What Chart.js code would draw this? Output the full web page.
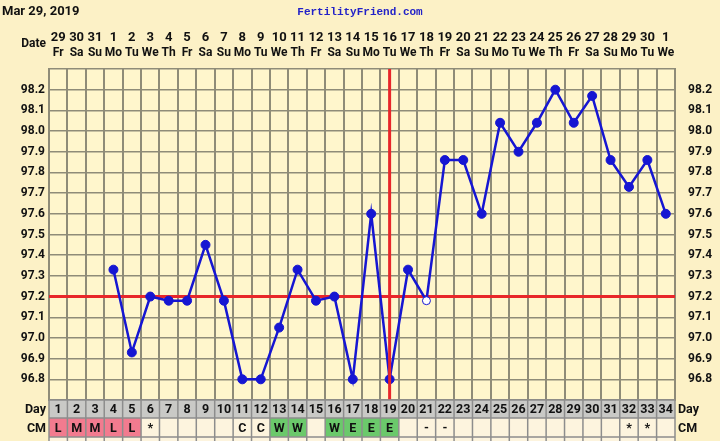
<!DOCTYPE html>
<html>
<head>
<meta charset="utf-8">
<script src="https://cdn.jsdelivr.net/npm/chart.js@4"></script>
<style>
  html, body { margin: 0; padding: 0; background: #fcf1c6; }
  #wrap { width: 720px; height: 441px; }
</style>
</head>
<body>
<div id="wrap"><canvas id="chart" width="720" height="441"></canvas></div>
<script>
// cycle days and the calendar above them
const days = Array.from({length: 34}, (_, i) => String(i + 1))
const dates = ['29','30','31','1','2','3','4','5','6','7','8','9','10','11','12','13','14','15','16','17','18','19','20','21','22','23','24','25','26','27','28','29','30','1']
const weekdays = ['Fr','Sa','Su','Mo','Tu','We','Th','Fr','Sa','Su','Mo','Tu','We','Th','Fr','Sa','Su','Mo','Tu','We','Th','Fr','Sa','Su','Mo','Tu','We','Th','Fr','Sa','Su','Mo','Tu','We']
// temperatures, null = not taken
const temps = [null, null, null, 97.33, 96.93, 97.2, 97.18, 97.18, 97.45, 97.18, 96.8, 96.8, 97.05, 97.33, 97.18, 97.2, 96.8, 97.6, 96.8, 97.33, 97.18,
  97.86, 97.86, 97.6, 98.04, 97.9, 98.04, 98.2, 98.04, 98.17, 97.86, 97.73, 97.86, 97.6]
const openDays = [21]     // temps marked as discarded (open circle)
const cm = ['L','M','M','L','L','*','','','','','C','C','W','W','','W','E','E','E','','-','-','','','','','','','','','','*','*','']
const coverline = 97.2
const ovulationDay = '19'
const title = 'Mar 29, 2019'
const site = 'FertilityFriend.com'

const BG = '#fcf1c6'
const PLOT_BG = '#fff6cc'
const GRID = '#8f8c78'
const BLUE = '#1616d2'
const RED = '#e8262a'

const cmColor = v => (v === 'L' || v === 'M') ? '#f27b8f' : (v === 'W' || v === 'E') ? '#6bc96b' : '#fdf4de'

const extras = {
    id: 'extras',
    beforeDraw(chart) {
        const {ctx, chartArea: a} = chart
        ctx.save()
        ctx.fillStyle = BG
        ctx.fillRect(0, 0, chart.width, chart.height)
        ctx.fillStyle = PLOT_BG
        ctx.fillRect(a.left, a.top, a.right - a.left, a.bottom - a.top)
        ctx.restore()
    },
    beforeDatasetsDraw(chart) {
        const {ctx, chartArea: a, scales} = chart
        const y = scales.y.getPixelForValue(coverline)
        ctx.save()
        ctx.strokeStyle = RED
        ctx.lineWidth = 3
        ctx.beginPath()
        ctx.moveTo(a.left, y)
        ctx.lineTo(a.right, y)
        ctx.stroke()
        ctx.restore()
    },
    afterDatasetsDraw(chart) {
        const {ctx, chartArea: a, scales} = chart
        const x = scales.x.getPixelForValue(days.indexOf(ovulationDay))
        ctx.save()
        ctx.strokeStyle = RED
        ctx.lineWidth = 3
        ctx.beginPath()
        ctx.moveTo(x, a.top)
        ctx.lineTo(x, a.bottom)
        ctx.stroke()
        ctx.restore()
    },
    afterDraw(chart) {
        const {ctx, chartArea: a, scales} = chart
        const xs = scales.x
        const w = (a.right - a.left) / days.length
        ctx.save()
        // header
        ctx.fillStyle = '#111'
        ctx.font = 'bold 13px Roboto'
        ctx.textBaseline = 'middle'
        ctx.textAlign = 'left'
        ctx.fillText(title, 2, 12)
        ctx.fillStyle = '#2222c8'
        ctx.font = 'bold 11px "Liberation Mono"'
        ctx.textAlign = 'center'
        ctx.fillText(site, 360, 12)
        ctx.fillStyle = '#111'
        ctx.font = 'bold 12px Roboto'
        ctx.textAlign = 'right'
        ctx.fillText('Date', 46, 44)
        // calendar rows above the plot
        ctx.textAlign = 'center'
        days.forEach((d, i) => {
            const x = xs.getPixelForValue(i)
            ctx.font = 'bold 13px Roboto'
            ctx.fillText(dates[i], x, 38)
            ctx.font = 'bold 12px Roboto'
            ctx.fillText(weekdays[i], x, 53)
        })

        // table rows under the plot
        const rows = [
            {top: a.bottom, h: 18, label: 'Day'},
            {top: a.bottom + 18, h: 19, label: 'CM'},
            {top: a.bottom + 37, h: 19, label: ''}
        ]
        days.forEach((d, i) => {
            const x0 = xs.getPixelForValue(i) - w / 2
            ctx.fillStyle = '#c9c9c6'
            ctx.fillRect(x0, rows[0].top, w, rows[0].h)
            ctx.fillStyle = cmColor(cm[i])
            ctx.fillRect(x0, rows[1].top, w, rows[1].h)
            ctx.fillStyle = '#fdf4de'
            ctx.fillRect(x0, rows[2].top, w, rows[2].h)
        })
        ctx.strokeStyle = '#8d8d8d'
        ctx.lineWidth = 1.5
        rows.forEach(r => {
            ctx.beginPath()
            ctx.moveTo(a.left, r.top)
            ctx.lineTo(a.right, r.top)
            ctx.stroke()
        })
        days.forEach((d, i) => {
            const x0 = xs.getPixelForValue(i) - w / 2
            ctx.beginPath()
            ctx.moveTo(x0, a.bottom)
            ctx.lineTo(x0, chart.height)
            ctx.stroke()
        })
        ctx.beginPath()
        ctx.moveTo(a.right, a.bottom)
        ctx.lineTo(a.right, chart.height)
        ctx.stroke()

        ctx.fillStyle = '#111'
        ctx.font = 'bold 12.5px Roboto'
        ctx.textAlign = 'center'
        days.forEach((d, i) => {
            const x = xs.getPixelForValue(i)
            ctx.fillText(d, x, rows[0].top + rows[0].h / 2 + 1)
            if (cm[i]) ctx.fillText(cm[i], x, rows[1].top + rows[1].h / 2 + 1)
        })
        rows.slice(0, 2).forEach(r => {
            ctx.textAlign = 'right'
            ctx.fillText(r.label, 46, r.top + r.h / 2 + 1)
            ctx.textAlign = 'left'
            ctx.fillText(r.label, 678, r.top + r.h / 2 + 1)
        })
        ctx.restore()
    }
}

const yTicks = {
    stepSize: 0.1,
    padding: 4,
    color: '#111',
    font: {family: 'Roboto', size: 12, weight: 'bold'},
    callback: v => (v < 96.75 || v > 98.25) ? '' : v.toFixed(1)
}

new Chart(document.getElementById('chart').getContext('2d'), {
    type: 'line',
    data: {
        labels: days,
        datasets: [{
            data: temps,
            borderColor: BLUE,
            borderWidth: 2.5,
            tension: 0,
            pointRadius: days.map(d => openDays.includes(+d) ? 4 : 4.5),
            pointBorderWidth: 1,
            pointBackgroundColor: days.map(d => openDays.includes(+d) ? '#ffffff' : BLUE),
            pointBorderColor: BLUE
        }]
    },
    plugins: [extras],
    options: {
        responsive: false,
        animation: false,
        layout: {padding: {top: 69, bottom: 41, left: 0, right: 0}},
        plugins: {legend: {display: false}, tooltip: {enabled: false}},
        scales: {
            x: {
                type: 'category',
                offset: true,
                grid: {offset: true, color: GRID, lineWidth: 2, drawTicks: false},
                border: {color: GRID, width: 2},
                ticks: {display: false},
                afterFit: s => { s.height = 0 }
            },
            y: {
                position: 'left',
                min: 96.7,
                max: 98.3,
                grid: {color: GRID, lineWidth: 1.5, drawTicks: false},
                border: {color: GRID, width: 2},
                ticks: yTicks,
                afterFit: s => { s.width = 49 }
            },
            y2: {
                position: 'right',
                min: 96.7,
                max: 98.3,
                grid: {display: false},
                border: {color: GRID, width: 2},
                ticks: Object.assign({}, yTicks, {padding: 5}),
                afterFit: s => { s.width = 45 }
            }
        }
    }
})
</script>
</body>
</html>
